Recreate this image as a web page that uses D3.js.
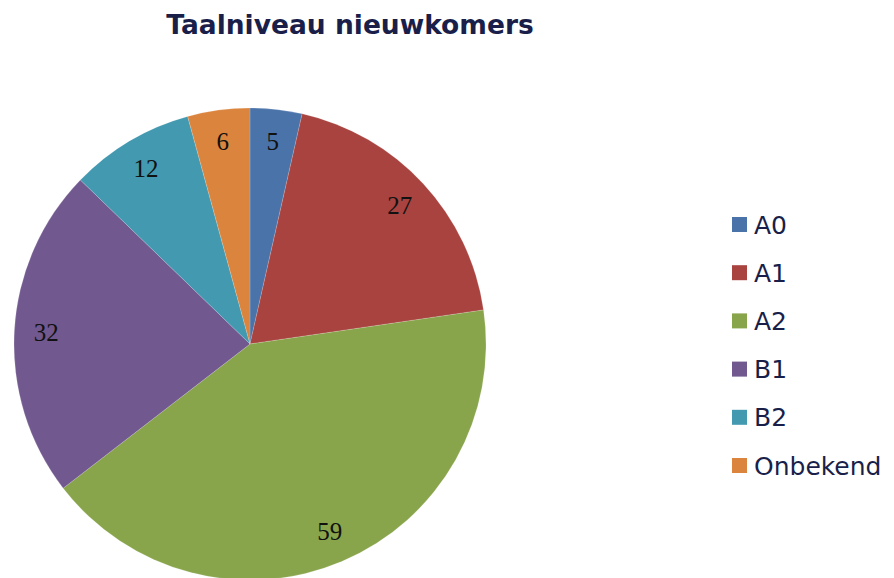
<!DOCTYPE html>
<html>
<head>
<meta charset="utf-8">
<script src="https://cdn.jsdelivr.net/npm/d3@7"></script>
<style>
  body { margin: 0; background: #fff; }
</style>
</head>
<body>
<script>
const WIDTH = 894;
const HEIGHT = 578;
const CX = 250;
const CY = 344;
const RADIUS = 236;
const LABEL_R = 204;

const levels = ["A0", "A1", "A2", "B1", "B2", "Onbekend"];
const counts = [5, 27, 59, 32, 12, 6];
const colors = ["#4a73aa", "#a8433f", "#88a54c", "#71588f", "#4399b0", "#db843d"];

const svg = d3.select("body").append("svg")
  .attr("width", WIDTH).attr("height", HEIGHT);

svg.append("text")
  .attr("x", 350).attr("y", 34)
  .attr("text-anchor", "middle")
  .style("font-family", "DejaVu Sans, Verdana, sans-serif")
  .style("font-weight", "bold")
  .style("font-size", "26.5px")
  .attr("fill", "#1a1f4a")
  .text("Taalniveau nieuwkomers");

const color = d3.scaleOrdinal().domain(levels).range(colors);

const pie = d3.pie().sort(null).value(d => d.v);
const data = levels.map((k, i) => ({ k: k, v: counts[i] }));
const arcs = pie(data);

const arc = d3.arc().innerRadius(0).outerRadius(RADIUS);
const labelArc = d3.arc().innerRadius(LABEL_R).outerRadius(LABEL_R);

const g = svg.append("g").attr("transform", `translate(${CX},${CY})`);

g.selectAll("path")
  .data(arcs)
  .enter().append("path")
  .attr("d", arc)
  .attr("fill", d => color(d.data.k))
  .attr("stroke", "#fff")
  .attr("stroke-opacity", 0.25)
  .attr("stroke-width", 0.6);

g.selectAll("text.lbl")
  .data(arcs)
  .enter().append("text")
  .attr("class", "lbl")
  .attr("transform", d => `translate(${labelArc.centroid(d)})`)
  .attr("text-anchor", "middle")
  .attr("dy", "0.33em")
  .style("font-family", "Liberation Serif, DejaVu Serif, serif")
  .style("font-size", "25px")
  .attr("fill", "#111")
  .text(d => d.data.v);

const legend = svg.append("g").attr("transform", "translate(732,224.5)");
const rows = legend.selectAll("g")
  .data(levels)
  .enter().append("g")
  .attr("transform", (d, i) => `translate(0,${i * 48.2})`);

rows.append("rect")
  .attr("x", 0).attr("y", -7.5)
  .attr("width", 15).attr("height", 15)
  .attr("fill", d => color(d));

rows.append("text")
  .attr("x", 22).attr("y", 0)
  .attr("dy", "0.36em")
  .style("font-family", "DejaVu Sans, Verdana, sans-serif")
  .style("font-size", "25px")
  .attr("fill", "#1a1f4a")
  .text(d => d);
</script>
</body>
</html>
